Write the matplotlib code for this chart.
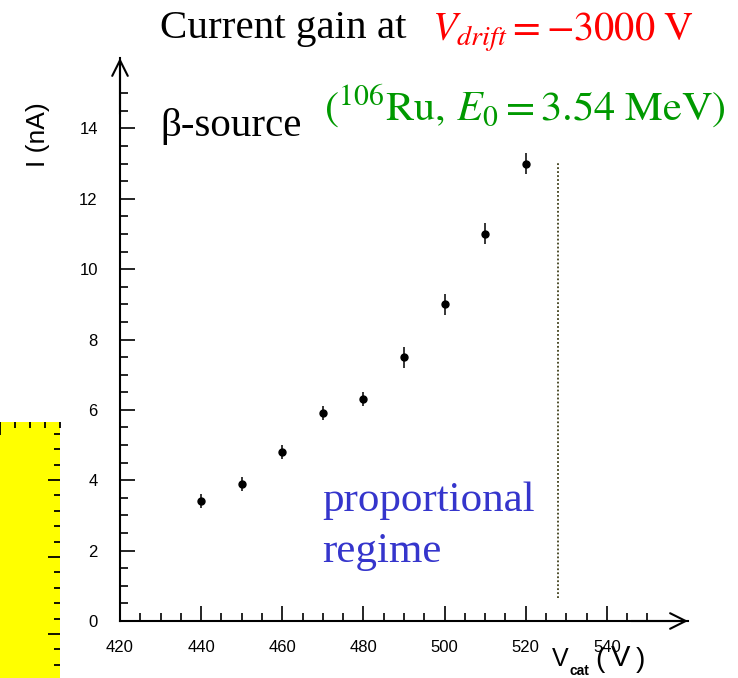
import numpy as np
import matplotlib
matplotlib.use("Agg")
import matplotlib.pyplot as plt
from matplotlib.ticker import MultipleLocator, FixedLocator

# data
v_cat = [440, 450, 460, 470, 480, 490, 500, 510, 520]
current = [3.4, 3.9, 4.8, 5.9, 6.3, 7.5, 9.0, 11.0, 13.0]
current_err = [0.2, 0.2, 0.2, 0.2, 0.2, 0.3, 0.3, 0.3, 0.3]
x_ticks = [420, 440, 460, 480, 500, 520, 540]
y_ticks = [0, 2, 4, 6, 8, 10, 12, 14]
regime_edge = 528

W, H = 738, 678
plt.rcParams["mathtext.fontset"] = "stix"
sans = "Liberation Sans"
serif = "Liberation Serif"

def fx(px):
    return px / W

def fy(py):
    return 1 - py / H

fig = plt.figure(figsize=(W / 100, H / 100), dpi=100)

# yellow strip at the lower left (part of another panel)
side = fig.add_axes([0, 0, fx(60), (H - 422) / H])
side.set_facecolor("#ffff00")
side.set_xlim(0, 0.8)
side.set_ylim(-0.571, 2.753)
for s in side.spines.values():
    s.set_visible(False)
side.xaxis.set_major_locator(MultipleLocator(1))
side.xaxis.set_minor_locator(MultipleLocator(0.2))
side.yaxis.set_major_locator(MultipleLocator(1))
side.yaxis.set_minor_locator(MultipleLocator(0.2))
side.tick_params(which="both", direction="in", left=False, bottom=False,
                 right=True, top=True, labelleft=False, labelbottom=False,
                 width=1.3, color="black")
side.tick_params(which="major", length=9)
side.tick_params(which="minor", length=4.5)

# main axes
ax = fig.add_axes([fx(120), 1 - 621 / H, fx(688 - 120), (621 - 58) / H])
ax.set_xlim(420, 560)
ax.set_ylim(0, 16)
ax.spines["top"].set_visible(False)
ax.spines["right"].set_visible(False)
ax.spines["left"].set_linewidth(1.5)
ax.spines["bottom"].set_linewidth(1.5)

ax.xaxis.set_major_locator(FixedLocator(x_ticks))
ax.xaxis.set_minor_locator(FixedLocator(np.arange(425, 551, 5)))
ax.yaxis.set_major_locator(FixedLocator(y_ticks))
ax.yaxis.set_minor_locator(FixedLocator(np.arange(0.5, 15.01, 0.5)))
ax.tick_params(which="both", direction="in", width=1.2, labelsize=12)
ax.tick_params(which="major", length=11)
ax.tick_params(which="minor", length=6)
ax.tick_params(axis="x", pad=14)
ax.tick_params(axis="y", pad=16)
for lab in ax.get_xticklabels() + ax.get_yticklabels():
    lab.set_fontfamily(sans)

# arrow heads on the axes
ax.annotate("", xy=(1, 0), xytext=(0.9, 0), xycoords="axes fraction",
            arrowprops=dict(arrowstyle="->", lw=1.5, mutation_scale=28,
                            shrinkA=0, shrinkB=0), annotation_clip=False)
ax.annotate("", xy=(0, 1), xytext=(0, 0.9), xycoords="axes fraction",
            arrowprops=dict(arrowstyle="->", lw=1.5, mutation_scale=28,
                            shrinkA=0, shrinkB=0), annotation_clip=False)

ax.errorbar(v_cat, current, yerr=current_err, fmt="o", color="black",
            ms=5, elinewidth=1.1, capsize=0, clip_on=False)

ax.vlines(regime_edge, 0.65, 13.05, colors="#40401a", linestyles=(0, (1, 1.2)),
          lw=1.3)

ax.text(469.8, 3.13, "proportional", color="#3535cc", fontsize=31,
        family=serif, va="baseline")
ax.text(469.8, 1.68, "regime", color="#3535cc", fontsize=31,
        family=serif, va="baseline")

# axis titles
fig.text(fx(38), fy(135), "I (nA)", rotation=90, ha="center", va="center",
         fontsize=19, family=sans)
fig.text(fx(552), fy(666), "V", fontsize=18, family=sans, va="baseline")
fig.text(fx(569), fy(675), "cat", fontsize=10, family=sans,
         fontweight="bold", va="baseline")
fig.text(fx(595), fy(667), "(", fontsize=20, family=sans, va="baseline")
fig.text(fx(621), fy(666), "V", fontsize=21, family=sans, va="baseline",
         ha="center")
fig.text(fx(645), fy(667), ")", fontsize=20, family=sans, va="baseline",
         ha="right")

# headline text
fig.text(fx(160), fy(38), "Current gain at", fontsize=29.5, family=serif,
         va="baseline")
fig.text(fx(432), fy(41), r"$V_{drift} = -3000\ \mathrm{V}$", fontsize=29,
         color="#ff0000", va="baseline")
fig.text(fx(160), fy(136), "β-source", fontsize=29.5, family=serif,
         va="baseline")
fig.text(fx(324), fy(121), r"$(^{106}\mathrm{Ru},\,E_0 = 3.54\ \mathrm{MeV})$",
         fontsize=30.5, color="#009900", va="baseline")

fig.savefig("out.png", dpi=100)
